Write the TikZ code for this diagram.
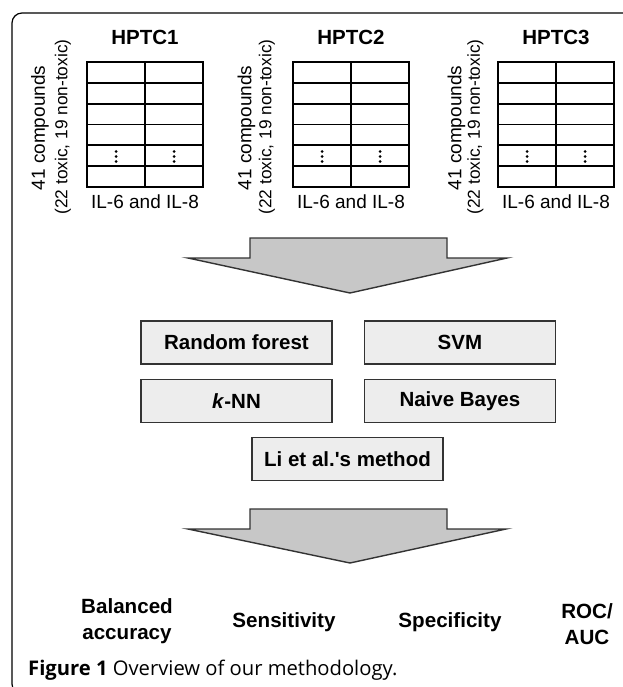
\documentclass[tikz,border=0pt]{standalone}
\usepackage{fontspec}
\setmainfont{Liberation Sans}
\newfontfamily\capfont{Open Sans}
\usepackage{tikz}
\usetikzlibrary{positioning}
\definecolor{boxgray}{gray}{0.93}
\definecolor{arrowgray}{gray}{0.78}
\definecolor{edgegray}{gray}{0.2}

\begin{document}
\begin{tikzpicture}[x=1pt, y=-1pt,
			method/.style={rectangle, draw=edgegray, line width=1.4pt, fill=boxgray, minimum width=191pt, minimum height=43pt, font=\bfseries\fontsize{20.5}{24}\selectfont},
			title/.style={font=\bfseries\fontsize{20.5}{24}\selectfont},
			cmpd/.style={rotate=90, font=\fontsize{19}{22}\selectfont},
			cmpdsub/.style={rotate=90, font=\fontsize{17.3}{22}\selectfont},
			readout/.style={font=\fontsize{19}{22}\selectfont},
			measure/.style={align=center, font=\bfseries\fontsize{20.6}{26}\selectfont},
			bigarrow/.style={draw=edgegray, line width=1.4pt, fill=arrowgray, line join=miter},
			tablegrid/.style={line width=1.8pt}
		]
		\useasboundingbox (0,0) rectangle (622,687);
		\draw[line width=1.2pt, rounded corners=10pt] (12,13) rectangle (640,694);

		% one table per cell line
		\foreach \tx/\i in {87/1, 293/2, 498/3} {
			\draw[tablegrid] (\tx,62) rectangle ++(116,125);
			\draw[tablegrid] (\tx+58,62) -- ++(0,125);
			\foreach \r in {1,...,5}
				\draw[tablegrid] (\tx,62+\r*20.83) -- ++(116,0);
			\foreach \c in {29,87}
				\foreach \d in {-5,0,5}
					\fill (\tx+\c,156.5+\d) circle (1.5pt);
			\node[title] (hptc\i) at (\tx+58,37) {HPTC\i};
			\node[readout] (il\i) at (\tx+58,202) {IL-6 and IL-8};
		}

		\node[cmpd] (cmpd1) at (40,128) {41 compounds};
		\node[cmpdsub] (sub1) at (63,127) {(22 toxic, 19 non-toxic)};
		\node[cmpd] (cmpd2) at (246.5,128) {41 compounds};
		\node[cmpdsub] (sub2) at (267,127) {(22 toxic, 19 non-toxic)};
		\node[cmpd] (cmpd3) at (456.5,128) {41 compounds};
		\node[cmpdsub] (sub3) at (475.5,127) {(22 toxic, 19 non-toxic)};

		\draw[bigarrow] (250,238) -- (447,238) -- (447,258) -- (507,258) -- (350,293) -- (188,258) -- (250,258) -- cycle;

		\node[method] (rf) at (236.5,342.5) {Random forest};
		\node[method] (svm) [right=31pt of rf] {SVM};
		\node[method] (knn) [below=14pt of rf] {\textit{k}-NN};
		\node[method] (nb) [below=14pt of svm] {Naive Bayes};
		\node[method] (li) at (347.5,459) {Li et al.\textquotesingle s method};

		\draw[bigarrow] (250,509) -- (447,509) -- (447,529) -- (506,529) -- (350,563) -- (188,529) -- (250,529) -- cycle;

		\node[measure] (bacc) at (127,621.5) {Balanced\\accuracy};
		\node[measure] (sens) at (284,622) {Sensitivity};
		\node[measure] (spec) at (450,622) {Specificity};
		\node[measure] (roc) at (587,624.5) {ROC/\\AUC};

		\node[anchor=west, inner sep=0pt, font=\capfont\fontsize{20.2}{24}\selectfont] (caption) at (28,670) {\textbf{Figure 1} Overview of our methodology.};
\end{tikzpicture}
\end{document}
